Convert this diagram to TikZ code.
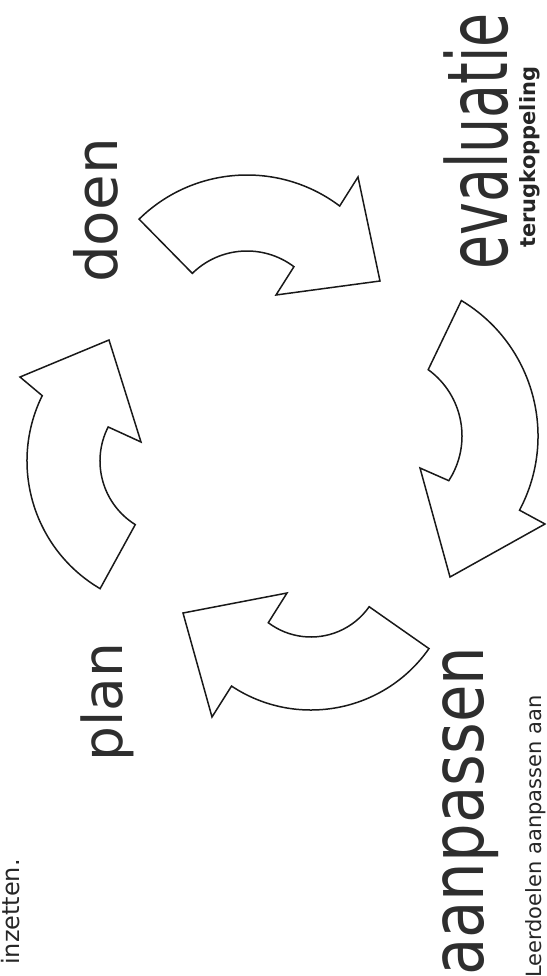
\documentclass[tikz,border=0pt]{standalone}
\usepackage{fontspec}
\usepackage{graphicx}
\setmainfont{DejaVu Sans}
\definecolor{inkgray}{HTML}{2E2E2E}

\begin{document}
\begin{tikzpicture}[
  x=1pt, y=-1pt,
  cyclearrow/.style={draw=black!90, line width=1.5pt, fill=white, line join=miter},
  stage/.style={rotate=90, anchor=base west, inner sep=0pt, text=inkgray},
  note/.style={rotate=90, anchor=base west, inner sep=0pt, text=black!85,
               font=\fontsize{21}{21}\selectfont}
]
  \useasboundingbox (0,0) rectangle (546,976);
  \clip (0,0) rectangle (546,976);

  % centres of the four arrows
  \coordinate (cA) at (247,329);
  \coordinate (cB) at (380,436);
  \coordinate (cC) at (311,566);
  \coordinate (cD) at (175,461);

  % doen -> evaluatie
  \draw[cyclearrow] ([shift={(225.5:154)}]cA) arc[start angle=225.5, end angle=307, radius=154]
    -- (358,177) -- (380,281) -- (276,295)
    -- ([shift={(307:78)}]cA) arc[start angle=307, end angle=225.5, radius=78] -- cycle;
  % evaluatie -> aanpassen
  \draw[cyclearrow] ([shift={(-59:158)}]cB) arc[start angle=-59, end angle=28, radius=158]
    -- (545,524) -- (450,577) -- (420,468)
    -- ([shift={(33:82)}]cB) arc[start angle=33, end angle=-54, radius=82] -- cycle;
  % aanpassen -> plan
  \draw[cyclearrow] ([shift={(35:144)}]cC) arc[start angle=35, end angle=123.5, radius=144]
    -- (212,717) -- (183,613) -- (287,593)
    -- ([shift={(127:71)}]cC) arc[start angle=127, end angle=35, radius=71] -- cycle;
  % plan -> doen
  \draw[cyclearrow] ([shift={(120.4:148)}]cD) arc[start angle=120.4, end angle=206.2, radius=148]
    -- (20,377) -- (109,340) -- (141,442)
    -- ([shift={(207:75)}]cD) arc[start angle=207, end angle=122, radius=75] -- cycle;

  \node[stage, font=\fontsize{55}{55}\selectfont] (plan) at (122,762) {plan};
  \node[stage, anchor=base east, font=\fontsize{58}{58}\selectfont] (doen) at (117,138) {doen};
  \node[stage, font=\fontsize{84}{84}\selectfont] (eval) at (507,270) {\scalebox{0.66}[1]{evaluatie}};
  \node[stage, font=\fontsize{73}{73}\selectfont] (adjust) at (483,976) {\scalebox{0.835}[1]{aanpassen}};

  \node[note, font=\fontsize{21}{21}\selectfont\bfseries] (feedback) at (535,248) {terugkoppeling};
  \node[note] (goals) at (541,978) {Leerdoelen aanpassen aan};
  \node[note, anchor=base east, font=\fontsize{24}{24}\selectfont] (deploy) at (19.5,859) {inzetten.};
\end{tikzpicture}
\end{document}
